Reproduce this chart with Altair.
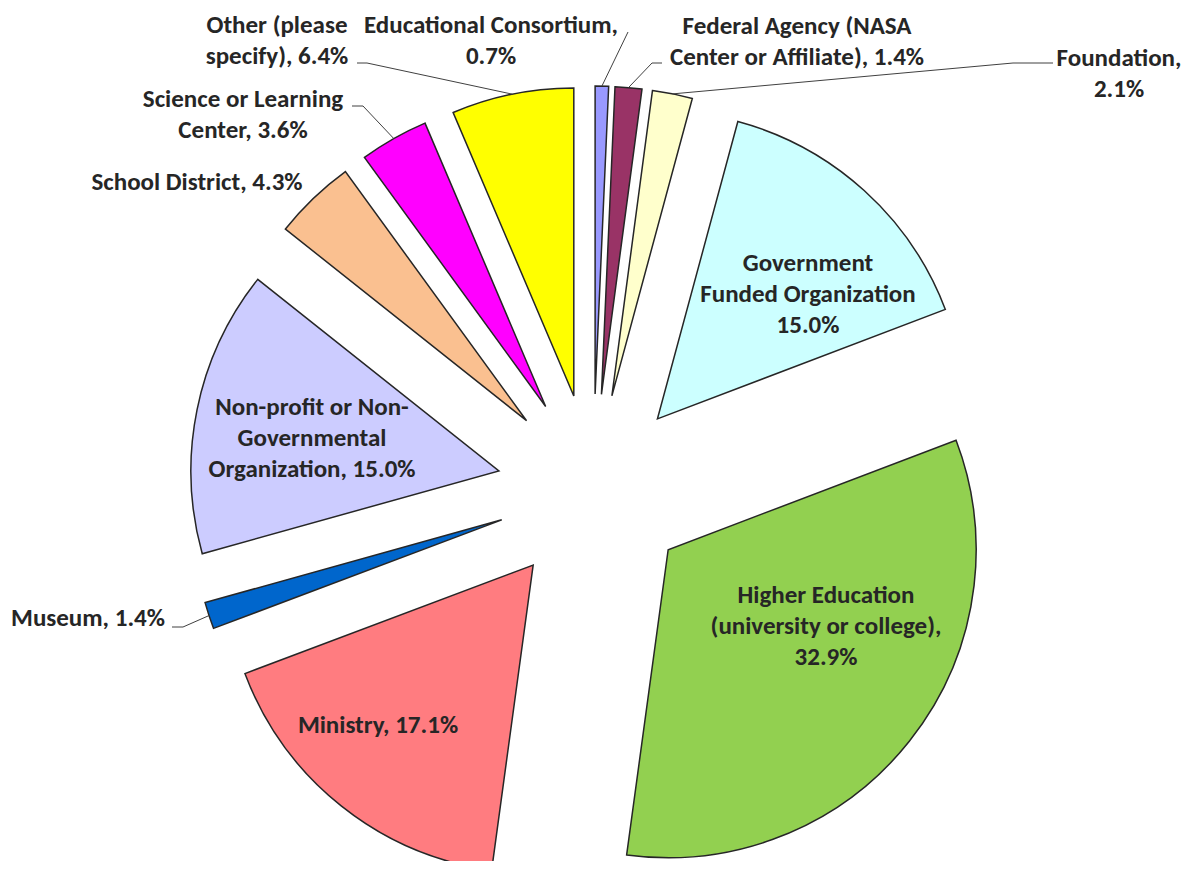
import altair as alt
import pandas as pd

# ---- data ----
labels = [
    "Educational Consortium",
    "Federal Agency (NASA Center or Affiliate)",
    "Foundation",
    "Government Funded Organization",
    "Higher Education (university or college)",
    "Ministry",
    "Museum",
    "Non-profit or Non-Governmental Organization",
    "School District",
    "Science or Learning Center",
    "Other (please specify)",
]
values = [0.7, 1.4, 2.1, 15.0, 32.9, 17.1, 1.4, 15.0, 4.3, 3.6, 6.4]
label_text = [
    "Educational Consortium,\n0.7%",
    "Federal Agency (NASA\nCenter or Affiliate), 1.4%",
    "Foundation,\n2.1%",
    "Government\nFunded Organization\n15.0%",
    "Higher Education\n(university or college),\n32.9%",
    "Ministry, 17.1%",
    "Museum, 1.4%",
    "Non-profit or Non-\nGovernmental\nOrganization, 15.0%",
    "School District, 4.3%",
    "Science or Learning\nCenter, 3.6%",
    "Other (please\nspecify), 6.4%",
]
colors = ["#9999FF", "#993366", "#FFFFCC", "#CCFFFF", "#92D050", "#FF7C80",
          "#0066CC", "#CCCCFF", "#FAC090", "#FF00FF", "#FFFF00"]

# ---- layout (page pixel coordinates; y = first text line) ----
W, H = 1176, 853
CX, CY, R, D = 593, 490, 308, 96
text_x = [491, 797, 1119, 808, 826, 378, 88, 312, 197, 243, 277]
text_y = [25, 26, 58, 263, 595, 725, 618, 407, 182, 99, 25]
lead_x = [628, 662, 1053, None, None, None, 172, None, None, 352, 357]
lead_y = [32, 63, 63, None, None, None, 627, None, None, 106, 63]
elb_x = [628, 652, 1013, None, None, None, 183, None, None, 363, 367]
elb_y = [32, 63, 63, None, None, None, 627, None, None, 106, 63]

df = pd.DataFrame({
    "order": list(range(len(labels))),
    "label": labels, "value": values, "text": label_text,
    "tx": text_x, "ty": text_y,
    "lx": lead_x, "ly": lead_y, "kx": elb_x, "ky": elb_y,
})

xs = alt.Scale(domain=[8, 8 + W], range=[0, W])
ys = alt.Scale(domain=[8, 8 + H], range=[0, H])

base = alt.Chart(df).transform_window(
    cum="sum(value)", sort=[alt.SortField("order")], frame=[None, 0]
).transform_joinaggregate(
    total="sum(value)"
).transform_calculate(
    a0="(datum.cum - datum.value) / datum.total * 2 * PI",
    a1="datum.cum / datum.total * 2 * PI",
).transform_calculate(
    mid="(datum.a0 + datum.a1) / 2"
).transform_calculate(
    cx=f"{CX} + {D} * sin(datum.mid)",
    cy=f"{CY} - {D} * cos(datum.mid)",
    px=f"{CX} + {R + D} * sin(datum.mid)",
    py=f"{CY} - {R + D} * cos(datum.mid)",
)

arcs = base.mark_arc(radius=R, stroke="#262626", strokeWidth=1.5).encode(
    x=alt.X("cx:Q", scale=xs, axis=None),
    y=alt.Y("cy:Q", scale=ys, axis=None),
    theta=alt.Theta("a0:Q", scale=None, stack=None),
    theta2=alt.Theta2("a1:Q"),
    color=alt.Color("label:N", scale=alt.Scale(domain=labels, range=colors), legend=None),
)

lead_a = base.transform_filter("isValid(datum.lx)").mark_rule(
    color="#404040", strokeWidth=1
).encode(
    x=alt.X("lx:Q", scale=xs, axis=None), y=alt.Y("ly:Q", scale=ys, axis=None),
    x2="kx:Q", y2="ky:Q",
)
lead_b = base.transform_filter("isValid(datum.lx)").mark_rule(
    color="#404040", strokeWidth=1
).encode(
    x=alt.X("kx:Q", scale=xs, axis=None), y=alt.Y("ky:Q", scale=ys, axis=None),
    x2="px:Q", y2="py:Q",
)

texts = base.mark_text(
    font="Carlito, Lato", fontSize=25, fontWeight="bold", color="#262626",
    align="center", baseline="middle", lineBreak="\n", lineHeight=31,
).encode(
    x=alt.X("tx:Q", scale=xs, axis=None), y=alt.Y("ty:Q", scale=ys, axis=None),
    text="text:N",
)

chart = alt.layer(arcs, lead_a, lead_b, texts).properties(
    width=W, height=H, autosize="none", padding=0, background="white"
).configure_view(stroke=None)

chart.save("out.html", embed_options={"renderer": "svg", "actions": False})
